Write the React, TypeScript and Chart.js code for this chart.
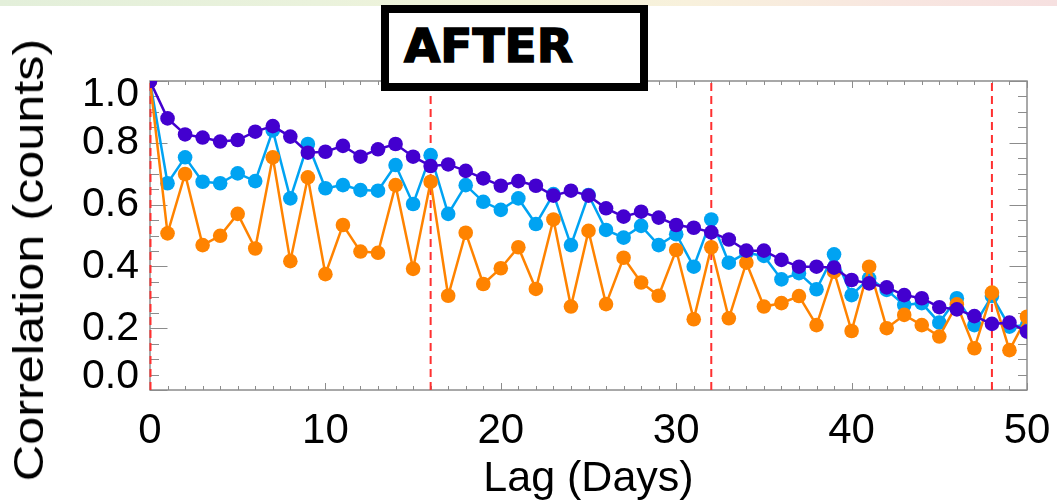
import React, { useEffect, useRef } from "react";
import { Chart, registerables } from "chart.js";

Chart.register(...registerables);

// ---------------- data ----------------
const lags = [
  0, 1, 2, 3, 4, 5, 6, 7, 8, 9, 10, 11, 12, 13, 14, 15, 16, 17, 18, 19, 20,
  21, 22, 23, 24, 25, 26, 27, 28, 29, 30, 31, 32, 33, 34, 35, 36, 37, 38, 39,
  40, 41, 42, 43, 44, 45, 46, 47, 48, 49, 50,
];

const seriesPurple = [
  1.0, 0.879, 0.827, 0.817, 0.804, 0.809, 0.836, 0.854, 0.82, 0.768, 0.771,
  0.79, 0.755, 0.779, 0.796, 0.755, 0.725, 0.73, 0.709, 0.685, 0.661, 0.676,
  0.661, 0.629, 0.645, 0.629, 0.588, 0.561, 0.577, 0.558, 0.534, 0.525, 0.51,
  0.487, 0.451, 0.451, 0.421, 0.399, 0.399, 0.396, 0.356, 0.345, 0.332, 0.307,
  0.297, 0.268, 0.261, 0.239, 0.214, 0.218, 0.189,
];

const seriesBlue = [
  1.0, 0.669, 0.753, 0.674, 0.669, 0.701, 0.676, 0.84, 0.62, 0.796, 0.653,
  0.663, 0.647, 0.645, 0.728, 0.602, 0.76, 0.57, 0.663, 0.609, 0.583, 0.62,
  0.537, 0.634, 0.469, 0.631, 0.518, 0.493, 0.531, 0.469, 0.504, 0.399, 0.552,
  0.412, 0.444, 0.434, 0.358, 0.378, 0.326, 0.439, 0.307, 0.361, 0.324, 0.275,
  0.281, 0.218, 0.297, 0.21, 0.304, 0.205, 0.21,
];

const seriesOrange = [
  1.0, 0.507, 0.699, 0.469, 0.499, 0.57, 0.458, 0.753, 0.417, 0.688, 0.375,
  0.534, 0.448, 0.444, 0.663, 0.392, 0.674, 0.305, 0.509, 0.343, 0.394, 0.462,
  0.327, 0.552, 0.27, 0.515, 0.278, 0.428, 0.348, 0.305, 0.453, 0.229, 0.462,
  0.232, 0.412, 0.27, 0.281, 0.304, 0.21, 0.383, 0.191, 0.399, 0.2, 0.243,
  0.21, 0.173, 0.277, 0.135, 0.315, 0.129, 0.237,
];

const markerLags = [0, 16, 32, 48];
const xMajorTicks = [0, 10, 20, 30, 40, 50];
const xMinorTicks = lags;
const yMinorTicks = [
  0, 0.05, 0.1, 0.15, 0.2, 0.25, 0.3, 0.35, 0.4, 0.45, 0.5, 0.55, 0.6, 0.65,
  0.7, 0.75, 0.8, 0.85, 0.9, 0.95, 1.0,
];
const yInnerLabels = [0.2, 0.4, 0.6, 0.8];
const yEdgeLabels = [0, 1.0];

const boxTitle = "AFTER";
const xTitle = "Lag (Days)";
const yTitle = "Correlation (counts)";

const COLORS = {
  purple: "#4300cf",
  blue: "#00a3f2",
  orange: "#ff8300",
  frame: "#8c8c8c",
  marker: "#ff3030",
};

const FONT = "'Liberation Sans', Arial, Helvetica, sans-serif";

// ------------- frame, inward ticks and dashed markers -------------
const idlFrame = {
  id: "idlFrame",
  beforeDatasetsDraw(chart: any) {
    const { ctx, chartArea: a, scales } = chart;
    const x = scales.x;
    const y = scales.y;
    ctx.save();
    ctx.strokeStyle = COLORS.frame;
    ctx.lineWidth = 1.5;
    ctx.strokeRect(a.left, a.top, a.right - a.left, a.bottom - a.top);
    ctx.lineWidth = 1;
    ctx.beginPath();
    xMinorTicks.forEach((v) => {
      const px = Math.round(x.getPixelForValue(v)) + 0.5;
      const len = xMajorTicks.includes(v) ? 7 : 4;
      ctx.moveTo(px, a.bottom);
      ctx.lineTo(px, a.bottom - len);
      ctx.moveTo(px, a.top);
      ctx.lineTo(px, a.top + len);
    });
    yMinorTicks.forEach((v, i) => {
      const py = Math.round(y.getPixelForValue(v)) + 0.5;
      const len = i % 4 === 0 ? 17.5 : 9;
      ctx.moveTo(a.left, py);
      ctx.lineTo(a.left + len, py);
      ctx.moveTo(a.right, py);
      ctx.lineTo(a.right - len, py);
    });
    ctx.stroke();
    ctx.strokeStyle = COLORS.marker;
    ctx.lineWidth = 2;
    ctx.setLineDash([8, 5]);
    markerLags.forEach((v) => {
      const px = x.getPixelForValue(v) + (v === 0 ? 0.5 : 0);
      ctx.beginPath();
      ctx.moveTo(px, a.bottom);
      ctx.lineTo(px, a.top);
      ctx.stroke();
    });
    ctx.restore();
  },
};

function makeSet(label: string, values: number[], color: string, order: number) {
  return {
    label,
    data: lags.map((l, i) => ({ x: l, y: values[i] })),
    borderColor: color,
    backgroundColor: color,
    pointBackgroundColor: color,
    pointBorderColor: color,
    pointRadius: 7.3,
    pointBorderWidth: 0,
    pointHoverRadius: 7.3,
    borderWidth: 2.5,
    tension: 0,
    order,
  };
}

const labelTicks = (values: number[]) => (s: any) => {
  s.ticks = values.map((v) => ({ value: v }));
};

const yLabelTicks = {
  mirror: true,
  padding: -68,
  color: "#000",
  autoSkip: false,
  font: { family: FONT, size: 41 },
  callback: (v: any) => Number(v).toFixed(1),
};

export default function App() {
  const canvasRef = useRef<HTMLCanvasElement | null>(null);

  useEffect(() => {
    if (!canvasRef.current) return;
    const chart = new Chart(canvasRef.current, {
      type: "line",
      data: {
        datasets: [
          makeSet("Purple", seriesPurple, COLORS.purple, 1),
          makeSet("Orange", seriesOrange, COLORS.orange, 2),
          makeSet("Blue", seriesBlue, COLORS.blue, 3),
        ],
      },
      options: {
        animation: false,
        responsive: false,
        events: [],
        layout: { padding: { top: 81, right: 30, left: 0, bottom: 0 } },
        plugins: {
          legend: { display: false },
          tooltip: { enabled: false },
          title: { display: false },
        },
        scales: {
          x: {
            type: "linear",
            position: "bottom",
            min: 0,
            max: 50,
            grid: { display: false, drawTicks: false },
            border: { display: false },
            afterFit(s: any) {
              s.height = 114;
              s.paddingLeft = 0;
              s.paddingRight = 0;
            },
            afterBuildTicks: labelTicks(xMajorTicks),
            ticks: {
              padding: 16,
              color: "#000",
              autoSkip: false,
              maxRotation: 0,
              font: { family: FONT, size: 42 },
              callback: (v: any) => String(v),
            },
            title: {
              display: true,
              text: xTitle,
              color: "#000",
              font: { family: FONT, size: 43 },
              padding: { top: 0, bottom: -1 },
            },
          },
          y: {
            type: "linear",
            position: "left",
            weight: 0,
            min: 0,
            max: 1,
            grid: { display: false, drawTicks: false },
            border: { display: false },
            afterFit(s: any) {
              s.width = 0;
            },
            afterBuildTicks: labelTicks(yInnerLabels),
            ticks: yLabelTicks,
          },
          yEdge: {
            type: "linear",
            position: "left",
            weight: 1,
            min: -0.048,
            max: 1.048,
            grid: { display: false, drawTicks: false },
            border: { display: false },
            afterFit(s: any) {
              s.width = 150;
            },
            afterBuildTicks: labelTicks(yEdgeLabels),
            ticks: yLabelTicks,
          },
        },
      } as any,
      plugins: [idlFrame],
    });
    return () => chart.destroy();
  }, []);

  return (
    <div
      style={{
        position: "absolute",
        left: 0,
        top: 0,
        width: 1057,
        height: 504,
        background: "#fff",
        overflow: "hidden",
      }}
    >
      <div
        style={{
          position: "absolute",
          left: 0,
          top: 0,
          width: 1057,
          height: 6,
          background:
            "linear-gradient(90deg, #e3efda 0%, #eaf2dc 30%, #f3f4d8 50%, #f8f1dc 65%, #f8e6e0 85%, #f6e0e0 100%)",
        }}
      />
      <canvas
        ref={canvasRef}
        width={1057}
        height={504}
        style={{ position: "absolute", left: 0, top: 0 }}
      />
      <div
        style={{
          position: "absolute",
          left: 29,
          top: 260,
          width: 0,
          height: 0,
        }}
      >
        <div
          style={{
            position: "absolute",
            left: 0,
            top: 0,
            transform: "translate(-50%, -50%) rotate(-90deg) scaleX(1.2)",
            fontFamily: FONT,
            fontSize: 42,
            lineHeight: 1,
            color: "#000",
            whiteSpace: "nowrap",
          }}
        >
          {yTitle}
        </div>
      </div>
      <div
        style={{
          position: "absolute",
          left: 381,
          top: 5,
          width: 267,
          height: 86,
          boxSizing: "border-box",
          border: "8px solid #000",
          background: "#fff",
        }}
      >
        <span
          style={{
            position: "absolute",
            left: 15,
            top: 9,
            fontFamily: "'DejaVu Sans', 'Liberation Sans', sans-serif",
            fontWeight: 700,
            fontSize: 47,
            lineHeight: 1,
            color: "#000",
            WebkitTextStroke: "1.5px #000",
            whiteSpace: "nowrap",
          }}
        >
          {boxTitle}
        </span>
      </div>
    </div>
  );
}
